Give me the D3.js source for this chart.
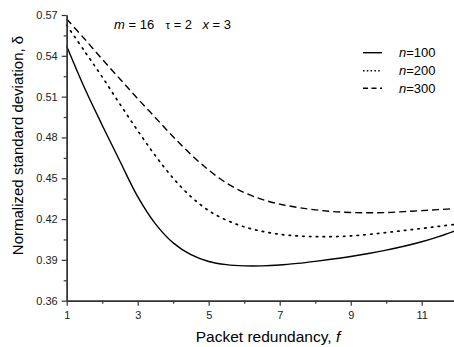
<!DOCTYPE html>
<html>
<head>
<meta charset="utf-8">
<script src="https://cdn.jsdelivr.net/npm/d3@7"></script>
<style>
  html, body { margin: 0; padding: 0; background: #fff; }
  svg { display: block; font-family: Arial, "Liberation Sans", sans-serif; }
</style>
</head>
<body>
<div id="chart"></div>
<script>
// packet redundancy f
const redundancy = [1, 1.5, 2, 2.5, 3, 3.5, 4, 4.5, 5, 5.5, 6, 6.5, 7, 7.5, 8, 8.5, 9, 9.5, 10, 10.5, 11, 11.5, 12];
// normalized standard deviation for each n
const n100 = [0.547, 0.5165, 0.489, 0.4625, 0.4365, 0.4165, 0.4025, 0.3938, 0.3888, 0.3865, 0.3856, 0.3856, 0.3862, 0.3874, 0.3889, 0.3906, 0.3925, 0.3947, 0.3972, 0.4, 0.4033, 0.4073, 0.412];
const n200 = [0.5625, 0.5435, 0.5245, 0.5045, 0.485, 0.4665, 0.45, 0.4365, 0.4262, 0.4192, 0.4143, 0.411, 0.4088, 0.4076, 0.4071, 0.4071, 0.4076, 0.4087, 0.4101, 0.4116, 0.4131, 0.4147, 0.4163];
const n300 = [0.567, 0.5525, 0.5375, 0.523, 0.5085, 0.4945, 0.4805, 0.4675, 0.456, 0.4465, 0.4395, 0.4345, 0.431, 0.4286, 0.4268, 0.4255, 0.4248, 0.4246, 0.4248, 0.4255, 0.4262, 0.427, 0.4278];
const seriesNames = ["100", "200", "300"];
const xTicks = [1, 3, 5, 7, 9, 11];
const yTicks = [0.36, 0.39, 0.42, 0.45, 0.48, 0.51, 0.54, 0.57];

const W = 454, H = 347;
const svg = d3.select("#chart").append("svg").attr("width", W).attr("height", H);

const x = d3.scaleLinear().domain([1, 12]).range([66.7, 457.2]);
const y = d3.scaleLinear().domain([0.36, 0.57]).range([300.7, 15]);

const styles = [
  { dash: null, legendDash: null },
  { dash: "1.5,5.3", legendDash: "1.5,2.3" },
  { dash: "7,4", legendDash: "5,3.5" }
];
const series = [n100, n200, n300];

// curves
const line = d3.line()
  .x((d, i) => x(redundancy[i]))
  .y(d => y(d))
  .curve(d3.curveCatmullRom.alpha(0.5));

svg.append("g").selectAll("path")
  .data(series)
  .enter().append("path")
  .attr("d", d => line(d))
  .attr("fill", "none")
  .attr("stroke", "#000")
  .attr("stroke-width", (d, i) => i === 1 ? 1.7 : 1.4)
  .attr("stroke-linecap", (d, i) => i === 1 ? "round" : "butt")
  .attr("stroke-dasharray", (d, i) => styles[i].dash);

// axes
const xAxis = svg.append("g").attr("transform", `translate(0,${y(0.36)})`)
  .call(d3.axisBottom(x).tickValues(xTicks).tickFormat(d3.format("d")).tickSize(5).tickSizeOuter(0));
const xMinor = svg.append("g").attr("transform", `translate(0,${y(0.36)})`)
  .call(d3.axisBottom(x).tickValues([2, 4, 6, 8, 10, 12]).tickFormat("").tickSize(3).tickSizeOuter(0));
const yAxis = svg.append("g").attr("transform", `translate(${x(1)},0)`)
  .call(d3.axisLeft(y).tickValues(yTicks).tickFormat(d3.format(".2f")).tickSize(5).tickSizeOuter(0));
const yMinor = svg.append("g").attr("transform", `translate(${x(1)},0)`)
  .call(d3.axisLeft(y).tickValues(d3.range(0.375, 0.57, 0.03)).tickFormat("").tickSize(3).tickSizeOuter(0));

[xAxis, xMinor, yAxis, yMinor].forEach(g => {
  g.select(".domain").attr("stroke", "#333").attr("stroke-width", 1.4);
  g.selectAll(".tick line").attr("stroke", "#333").attr("stroke-width", 1.2);
  g.selectAll("text").attr("font-family", "Arial, 'Liberation Sans', sans-serif")
    .attr("font-size", 11).attr("fill", "#222");
});
xAxis.selectAll("text").attr("dy", "0.9em");
yAxis.selectAll("text").attr("dx", "-1px");

// axis titles
svg.append("text")
  .attr("x", 268).attr("y", 341.5)
  .attr("text-anchor", "middle")
  .attr("font-size", 15.5)
  .html("Packet redundancy, <tspan font-style='italic'>f</tspan>");

svg.append("text")
  .attr("transform", "translate(22.5,145.5) rotate(-90)")
  .attr("text-anchor", "middle")
  .attr("font-size", 15)
  .text("Normalized standard deviation, \u03b4");

// parameter annotation
const note = svg.append("text").attr("y", 29.3).attr("font-size", 13);
note.append("tspan").attr("x", 114).attr("font-style", "italic").text("m");
note.append("tspan").text(" = 16");
note.append("tspan").attr("x", 165.5).attr("font-size", 11.5).text("\u03c4");
note.append("tspan").text(" = 2");
note.append("tspan").attr("x", 202.5).attr("font-style", "italic").text("x");
note.append("tspan").text(" = 3");

// legend
const legend = svg.append("g");
const rowY = [52.7, 70.7, 88.3];
seriesNames.forEach((name, i) => {
  legend.append("line")
    .attr("x1", 363).attr("x2", 382)
    .attr("y1", rowY[i]).attr("y2", rowY[i])
    .attr("stroke", "#000")
    .attr("stroke-width", i === 1 ? 1.5 : 1.4)
    .attr("stroke-dasharray", styles[i].legendDash);
  legend.append("text")
    .attr("x", 399).attr("y", rowY[i] + 4.5)
    .attr("font-size", 13)
    .html(`<tspan font-style='italic'>n</tspan>=${name}`);
});
</script>
</body>
</html>
